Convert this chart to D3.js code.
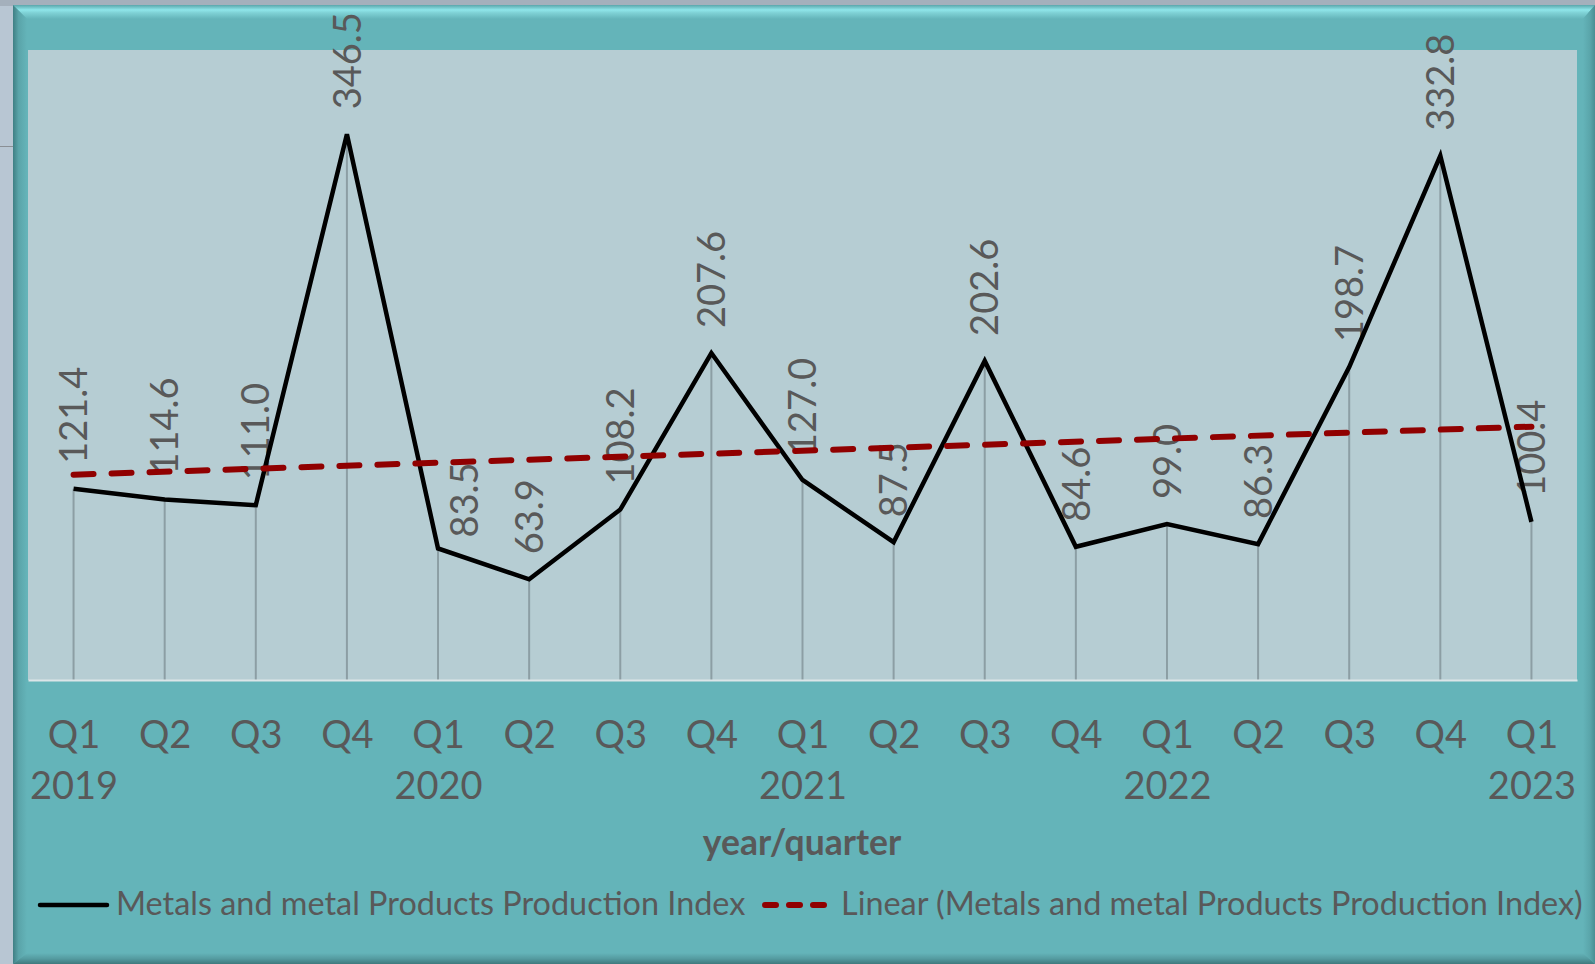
<!DOCTYPE html>
<html>
<head>
<meta charset="utf-8">
<script src="https://cdn.jsdelivr.net/npm/d3@7"></script>
<style>
  html, body { margin: 0; padding: 0; background: #a9b6c2; }
  svg { display: block; font-family: Lato, "Open Sans", sans-serif; }
</style>
</head>
<body>
<svg id="chart"></svg>
<script>
// Data
const quarters = ['Q1', 'Q2', 'Q3', 'Q4', 'Q1', 'Q2', 'Q3', 'Q4', 'Q1', 'Q2', 'Q3', 'Q4', 'Q1', 'Q2', 'Q3', 'Q4', 'Q1'];
const years = ['2019', '', '', '', '2020', '', '', '', '2021', '', '', '', '2022', '', '', '', '2023'];
const values = [121.4, 114.6, 111.0, 346.5, 83.5, 63.9, 108.2, 207.6, 127.0, 87.5, 202.6, 84.6, 99.0, 86.3, 198.7, 332.8, 100.4];
const seriesName = 'Metals and metal Products Production Index';
const trendName = 'Linear (Metals and metal Products Production Index)';
const axisTitle = 'year/quarter';

// Dimensions
const width = 1595;
const height = 964;
const plot = { left: 28, right: 1577, top: 50, bottom: 680 };
const textColor = '#595959';

const svg = d3.select('#chart')
  .attr('width', width)
  .attr('height', height);

const defs = svg.append('defs');

// Page background strips
svg.append('rect').attr('x', 0).attr('y', 0).attr('width', width).attr('height', height).attr('fill', '#b8c6d3');
svg.append('rect').attr('x', 0).attr('y', 0).attr('width', width).attr('height', 6).attr('fill', '#a4b0bc');
svg.append('line').attr('x1', 0).attr('x2', 13).attr('y1', 146.5).attr('y2', 146.5).attr('stroke', '#8a8f95').attr('stroke-width', 1);

// Bevelled chart frame
const gTop = defs.append('linearGradient').attr('id', 'gTop').attr('x1', 0).attr('y1', 0).attr('x2', 0).attr('y2', 1);
gTop.append('stop').attr('offset', '0').attr('stop-color', '#5aa6ab');
gTop.append('stop').attr('offset', '0.35').attr('stop-color', '#8fe6ea');
gTop.append('stop').attr('offset', '0.55').attr('stop-color', '#7fd2d6');
gTop.append('stop').attr('offset', '1').attr('stop-color', '#64b4b9');

const gLeft = defs.append('linearGradient').attr('id', 'gLeft').attr('x1', 0).attr('y1', 0).attr('x2', 1).attr('y2', 0);
gLeft.append('stop').attr('offset', '0').attr('stop-color', '#3f7f84');
gLeft.append('stop').attr('offset', '0.4').attr('stop-color', '#5aa4a9');
gLeft.append('stop').attr('offset', '1').attr('stop-color', '#64b4b9');

const gRight = defs.append('linearGradient').attr('id', 'gRight').attr('x1', 0).attr('y1', 0).attr('x2', 1).attr('y2', 0);
gRight.append('stop').attr('offset', '0').attr('stop-color', '#64b4b9');
gRight.append('stop').attr('offset', '0.6').attr('stop-color', '#5aa5aa');
gRight.append('stop').attr('offset', '1').attr('stop-color', '#4a8e93');

const gBottom = defs.append('linearGradient').attr('id', 'gBottom').attr('x1', 0).attr('y1', 0).attr('x2', 0).attr('y2', 1);
gBottom.append('stop').attr('offset', '0').attr('stop-color', '#64b4b9');
gBottom.append('stop').attr('offset', '0.5').attr('stop-color', '#559ca1');
gBottom.append('stop').attr('offset', '1').attr('stop-color', '#3f7a7e');

const fx0 = 13, fy0 = 5, fx1 = width, fy1 = height;
svg.append('rect').attr('x', fx0).attr('y', fy0).attr('width', fx1 - fx0).attr('height', fy1 - fy0).attr('fill', '#64b4b9');
svg.append('path').attr('fill', 'url(#gTop)')
  .attr('d', `M${fx0},${fy0}H${fx1}L${fx1 - 12},${fy0 + 14}H${fx0 + 14}Z`);
svg.append('path').attr('fill', 'url(#gLeft)')
  .attr('d', `M${fx0},${fy0}L${fx0 + 14},${fy0 + 14}V${fy1 - 11}L${fx0},${fy1}Z`);
svg.append('path').attr('fill', 'url(#gRight)')
  .attr('d', `M${fx1},${fy0}L${fx1 - 12},${fy0 + 14}V${fy1 - 11}L${fx1},${fy1}Z`);
svg.append('path').attr('fill', 'url(#gBottom)')
  .attr('d', `M${fx0},${fy1}L${fx0 + 14},${fy1 - 11}H${fx1 - 12}L${fx1},${fy1}Z`);

// Plot area
svg.append('rect')
  .attr('x', plot.left).attr('y', plot.top)
  .attr('width', plot.right - plot.left).attr('height', plot.bottom - plot.top)
  .attr('fill', '#b6cdd3');

// Scales
const idx = d3.range(values.length);
const xScale = d3.scalePoint().domain(idx).range([plot.left, plot.right]).padding(0.5);
const yScale = d3.scaleLinear().domain([0, 400]).range([plot.bottom, plot.top]);

// Drop lines
svg.append('g').selectAll('line')
  .data(idx)
  .enter()
  .append('line')
  .attr('x1', i => xScale(i)).attr('x2', i => xScale(i))
  .attr('y1', i => yScale(values[i])).attr('y2', plot.bottom)
  .attr('stroke', '#8c9ea4')
  .attr('stroke-width', 2);

// X axis
const xAxis = d3.axisBottom(xScale)
  .tickSize(0)
  .tickPadding(41)
  .tickFormat(i => quarters[i]);

const axisG = svg.append('g')
  .attr('transform', `translate(0, ${plot.bottom})`)
  .call(xAxis);

axisG.select('.domain').attr('stroke', '#dbe5e8').attr('stroke-width', 2);
axisG.selectAll('.tick text')
  .attr('fill', textColor)
  .style('font-size', '38px')
  .style('font-family', 'Lato, "Open Sans", sans-serif');
axisG.selectAll('.tick')
  .append('text')
  .attr('y', 119)
  .attr('text-anchor', 'middle')
  .attr('fill', textColor)
  .style('font-size', '38px')
  .style('font-family', 'Lato, "Open Sans", sans-serif')
  .text(i => years[i]);

// Axis title
svg.append('text')
  .attr('x', 802)
  .attr('y', 855)
  .attr('text-anchor', 'middle')
  .attr('fill', textColor)
  .style('font-size', '35.5px')
  .style('font-weight', 'bold')
  .text(axisTitle);

// Data labels (drawn below the lines); the 2020 Q1 label was moved aside in the original
const labelNudge = { 4: [26, 14] };
svg.append('g').selectAll('text')
  .data(idx)
  .enter()
  .append('text')
  .attr('transform', i => {
    const [dx, dy] = labelNudge[i] || [0, 0];
    return `translate(${xScale(i) + dx}, ${yScale(values[i]) - 25 + dy}) rotate(-90)`;
  })
  .attr('dy', '0.36em')
  .attr('text-anchor', 'start')
  .attr('fill', textColor)
  .style('font-size', '38px')
  .text(i => values[i].toFixed(1));

// Series line
const line = d3.line().x(i => xScale(i)).y(i => yScale(values[i]));
svg.append('path')
  .datum(idx)
  .attr('d', line)
  .attr('fill', 'none')
  .attr('stroke', '#000')
  .attr('stroke-width', 4.5)
  .attr('stroke-linejoin', 'miter');

// Linear trendline (least squares, as the spreadsheet computes it)
const xs = idx.map(i => i + 1);
const xMean = d3.mean(xs);
const yMean = d3.mean(values);
const slope = d3.sum(xs, (x, k) => (x - xMean) * (values[k] - yMean)) / d3.sum(xs, x => (x - xMean) ** 2);
const intercept = yMean - slope * xMean;
const trend = [0, values.length - 1];
svg.append('path')
  .datum(trend)
  .attr('d', d3.line().x(i => xScale(i)).y(i => yScale(intercept + slope * (i + 1))))
  .attr('fill', 'none')
  .attr('stroke', '#900000')
  .attr('stroke-width', 6)
  .attr('stroke-linecap', 'round')
  .attr('stroke-dasharray', '20,18');

// Legend
const legend = svg.append('g');
legend.append('line')
  .attr('x1', 40).attr('x2', 107).attr('y1', 905).attr('y2', 905)
  .attr('stroke', '#000').attr('stroke-width', 4.5).attr('stroke-linecap', 'round');
legend.append('text')
  .attr('x', 116).attr('y', 915)
  .attr('fill', textColor)
  .style('font-size', '32.4px')
  .text(seriesName);
legend.append('line')
  .attr('x1', 765).attr('x2', 824).attr('y1', 905).attr('y2', 905)
  .attr('stroke', '#900000').attr('stroke-width', 6).attr('stroke-linecap', 'round')
  .attr('stroke-dasharray', '11,13');
legend.append('text')
  .attr('x', 841).attr('y', 915)
  .attr('fill', textColor)
  .style('font-size', '32.4px')
  .text(trendName);
</script>
</body>
</html>
